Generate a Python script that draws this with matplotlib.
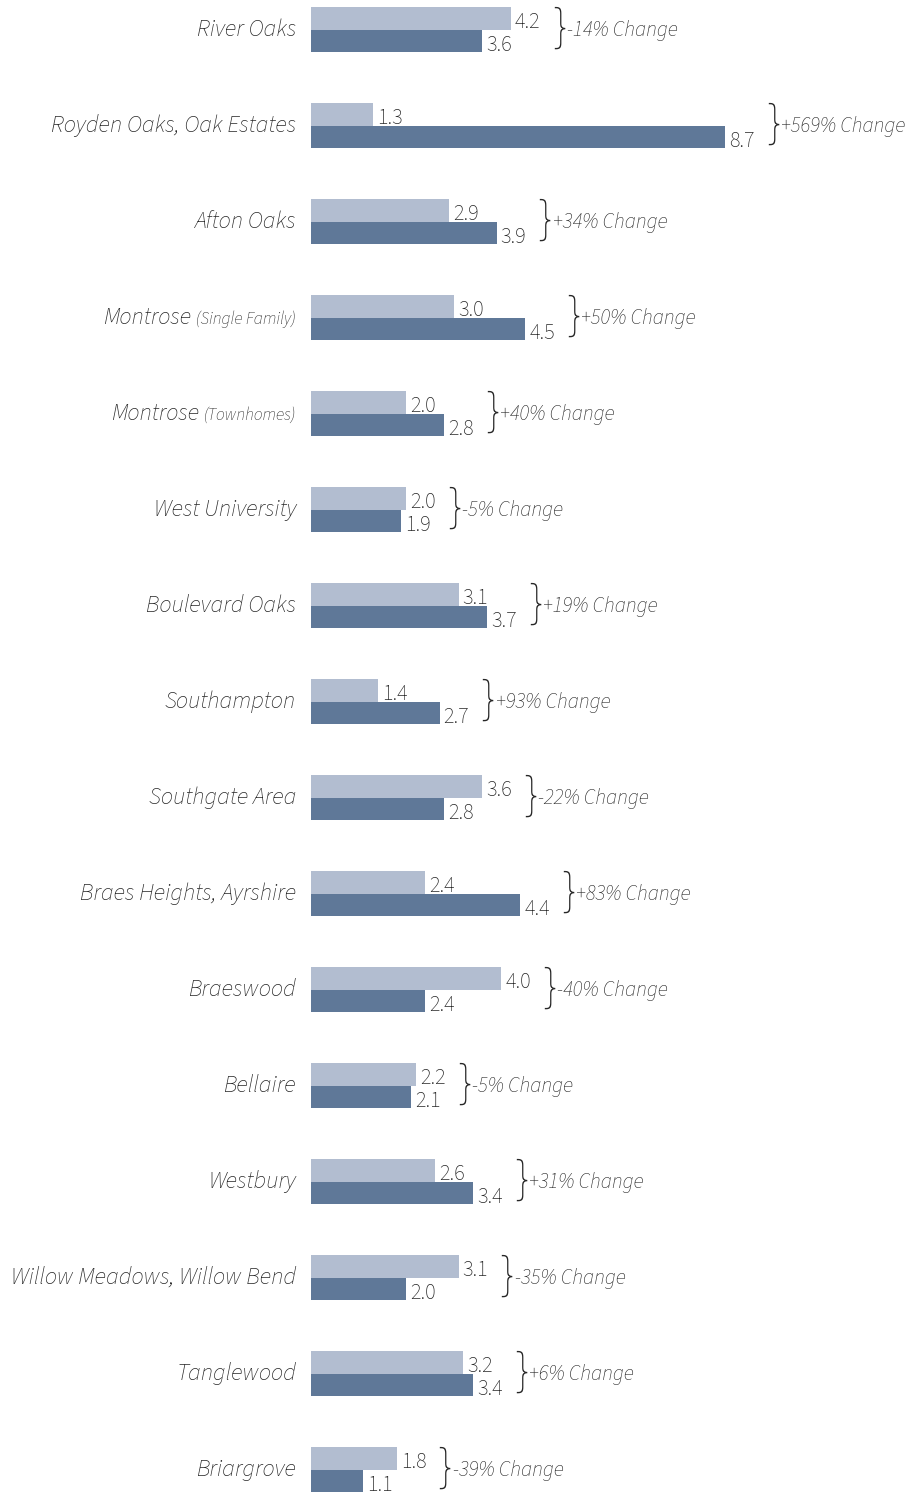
import matplotlib
matplotlib.use('Agg')
import matplotlib.pyplot as plt

categories = ["River Oaks", "Royden Oaks, Oak Estates", "Afton Oaks", "Montrose",
              "Montrose", "West University", "Boulevard Oaks", "Southampton",
              "Southgate Area", "Braes Heights, Ayrshire", "Braeswood", "Bellaire",
              "Westbury", "Willow Meadows, Willow Bend", "Tanglewood", "Briargrove"]
subtitles = ["", "", "", "(Single Family)", "(Townhomes)", "", "", "", "", "", "", "", "", "", "", ""]
before = [4.2, 1.3, 2.9, 3.0, 2.0, 2.0, 3.1, 1.4, 3.6, 2.4, 4.0, 2.2, 2.6, 3.1, 3.2, 1.8]
after = [3.6, 8.7, 3.9, 4.5, 2.8, 1.9, 3.7, 2.7, 2.8, 4.4, 2.4, 2.1, 3.4, 2.0, 3.4, 1.1]
changes = ["-14%", "+569%", "+34%", "+50%", "+40%", "-5%", "+19%", "+93%", "-22%",
           "+83%", "-40%", "-5%", "+31%", "-35%", "+6%", "-39%"]

FONT = ['Source Sans 3', 'Lato', 'DejaVu Sans']
TXT = '#262626'
LIGHT = '#B2BDD0'
DARK = '#5F7898'

W, H = 907, 1492
fig = plt.figure(figsize=(W / 100, H / 100), dpi=100)
ax_left = 311
ax = fig.add_axes([ax_left / W, 0, (W - ax_left) / W, 1])
px_per_unit = 47.6
row_px = 96.0
first_center = 29.5
ax.set_xlim(0, (W - ax_left) / px_per_unit)
ax.set_ylim((H - first_center) / row_px, -first_center / row_px)
ax.axis('off')

n = len(categories)
ys = list(range(n))
bh = 22.5 / row_px
ax.barh([y - bh / 2 for y in ys], before, height=bh, color=LIGHT, linewidth=0)
ax.barh([y + bh / 2 for y in ys], after, height=bh, color=DARK, linewidth=0)

for i in ys:
    b, a = before[i], after[i]
    ax.annotate(f"{b:.1f}", xy=(b, i - 0.012), xytext=(4, 0), textcoords='offset pixels',
                ha='left', va='baseline', fontsize=16, family=FONT, weight=300, color=TXT)
    ax.annotate(f"{a:.1f}", xy=(a, i + 0.22), xytext=(4, 0), textcoords='offset pixels',
                ha='left', va='baseline', fontsize=16, family=FONT, weight=300, color=TXT)
    m = max(a, b)
    ax.annotate("}", xy=(m, i - 0.005), xytext=(42, 0), textcoords='offset pixels',
                ha='left', va='center', fontsize=35, family=FONT, weight=500, color=TXT)
    ax.annotate(f"{changes[i]} Change", xy=(m, i + 0.07), xytext=(56, 0), textcoords='offset pixels',
                ha='left', va='baseline', fontsize=15.3, family=FONT, weight=300, style='italic', color=TXT)
    lx = -15 / px_per_unit
    if subtitles[i]:
        sub = ax.text(lx, i + 0.065, subtitles[i], ha='right', va='baseline', fontsize=12.5,
                      family=FONT, weight=300, style='italic', color=TXT)
        ax.annotate(categories[i], xy=(0, i + 0.065), xycoords=(sub, 'data'), xytext=(-5, 0),
                    textcoords='offset pixels', ha='right', va='baseline', fontsize=17.5,
                    family=FONT, weight=300, style='italic', color=TXT)
    else:
        ax.text(lx, i + 0.065, categories[i], ha='right', va='baseline', fontsize=17.5,
                family=FONT, weight=300, style='italic', color=TXT)

fig.savefig('out.png', dpi=100)
